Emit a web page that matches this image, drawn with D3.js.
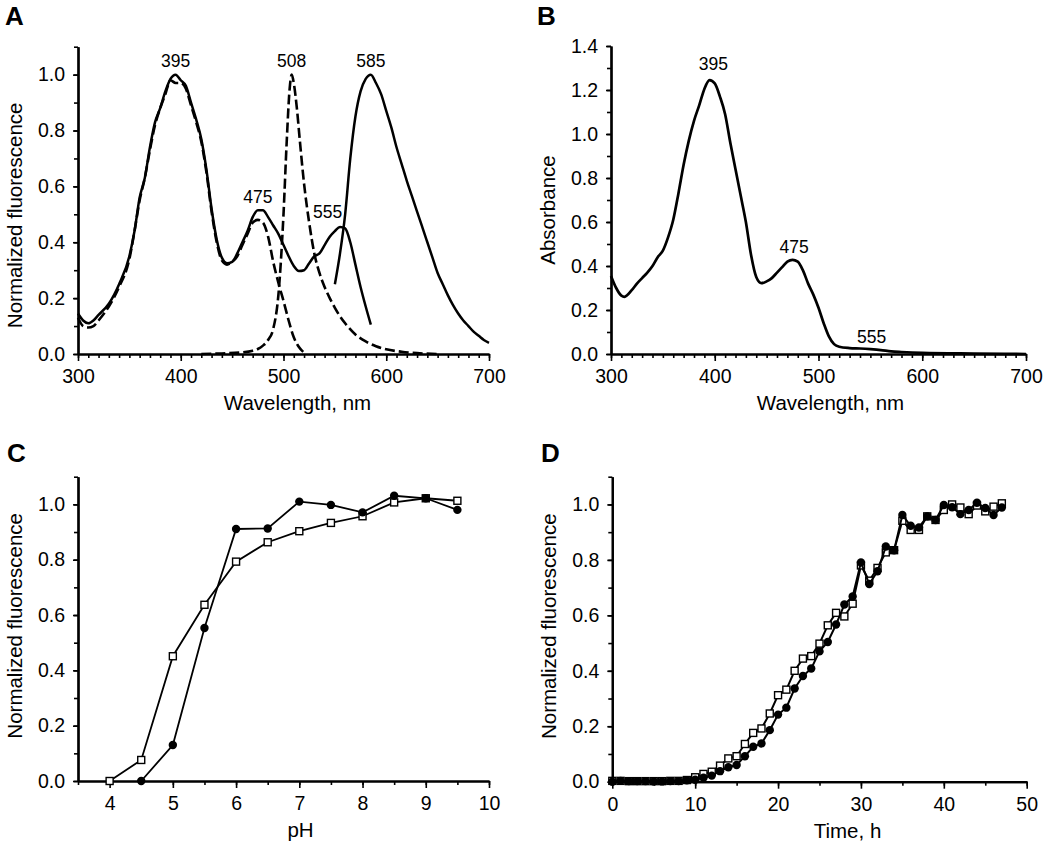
<!DOCTYPE html>
<html>
<head>
<meta charset="utf-8">
<script src="https://cdn.jsdelivr.net/npm/d3@7"></script>
<style>
  body { margin: 0; background: #fff; }
  svg { font-family: "Liberation Sans", Arial, sans-serif; }
</style>
</head>
<body>
<div id="chart"></div>
<script>
// Set the dimensions of the figure
const width = 1050, height = 854;

// ---------- data ----------
// Panel A: excitation (solid / dashed) and emission (dashed 508, solid 585)
const excSolid = [
  [300,0.145],[305,0.12],[310,0.11],[315,0.12],[320,0.14],[330,0.18],[340,0.25],[350,0.35],
  [355,0.44],[360,0.56],[365,0.63],[370,0.74],[375,0.83],[380,0.88],[385,0.94],[390,0.985],
  [395,1.0],[400,0.98],[405,0.96],[410,0.90],[415,0.84],[420,0.77],[425,0.66],[430,0.52],
  [435,0.41],[440,0.345],[445,0.325],[450,0.33],[455,0.36],[460,0.40],[465,0.44],[470,0.49],
  [475,0.515],[480,0.515],[485,0.49],[490,0.46],[495,0.43],[500,0.39],[505,0.35],[510,0.315],
  [515,0.297],[520,0.30],[525,0.325],[530,0.35],[535,0.36],[540,0.39],[545,0.42],[550,0.44],
  [555,0.455],[560,0.45],[565,0.40],[570,0.32],[575,0.24],[580,0.17],[585,0.105]
];
const excDashed = [
  [300,0.13],[305,0.10],[310,0.095],[315,0.10],[320,0.12],[330,0.17],[340,0.24],[350,0.34],
  [355,0.44],[360,0.55],[365,0.63],[370,0.73],[375,0.82],[380,0.88],[385,0.93],[390,0.98],
  [395,0.97],[400,0.97],[405,0.95],[410,0.89],[415,0.83],[420,0.76],[425,0.65],[430,0.51],
  [435,0.40],[440,0.335],[445,0.32],[450,0.33],[455,0.35],[460,0.39],[465,0.43],[470,0.47],
  [475,0.48],[480,0.47],[485,0.42],[490,0.33],[495,0.255],[500,0.19],[505,0.12],[510,0.06],
  [515,0.025],[520,0.005]
];
const emDashed = [
  [420,0],[440,0.002],[460,0.006],[470,0.012],[475,0.018],[480,0.03],[485,0.05],[490,0.09],
  [495,0.21],[500,0.50],[503,0.75],[506,0.95],[508,1.0],[510,0.97],[513,0.88],[516,0.76],
  [520,0.61],[525,0.47],[530,0.36],[535,0.29],[540,0.24],[545,0.20],[550,0.165],[555,0.135],
  [560,0.11],[570,0.07],[580,0.045],[590,0.028],[600,0.017],[615,0.008],[630,0.003],[650,0]
];
const emSolid = [
  [550,0.25],[555,0.36],[560,0.50],[565,0.70],[570,0.85],[575,0.94],[580,0.985],[585,1.0],
  [590,0.97],[595,0.93],[600,0.87],[605,0.81],[610,0.74],[615,0.68],[620,0.62],[625,0.565],
  [630,0.51],[635,0.455],[640,0.40],[645,0.345],[650,0.29],[655,0.25],[660,0.21],[665,0.175],
  [670,0.145],[675,0.12],[680,0.10],[685,0.08],[690,0.065],[695,0.05],[700,0.04]
];
const peaksA = [
  { text: "395", x: 395, y: 1.029 }, { text: "508", x: 508, y: 1.029 },
  { text: "585", x: 585, y: 1.029 }, { text: "475", x: 475, y: 0.541 },
  { text: "555", x: 543, y: 0.487 }
];

// Panel B: absorbance
const absorbance = [
  [300,0.355],[305,0.30],[310,0.265],[313,0.26],[320,0.29],[325,0.32],[330,0.345],[335,0.37],
  [340,0.40],[345,0.44],[350,0.47],[355,0.53],[360,0.61],[365,0.73],[370,0.86],[375,0.97],
  [380,1.06],[385,1.13],[390,1.205],[395,1.245],[400,1.23],[405,1.17],[410,1.09],[415,0.96],
  [420,0.84],[425,0.72],[430,0.60],[435,0.45],[440,0.35],[445,0.322],[450,0.33],[455,0.345],
  [460,0.37],[465,0.395],[470,0.42],[475,0.428],[480,0.42],[485,0.38],[490,0.32],[495,0.27],
  [500,0.21],[505,0.14],[510,0.08],[515,0.045],[520,0.033],[530,0.027],[540,0.025],[550,0.022],
  [560,0.018],[570,0.012],[580,0.009],[600,0.005],[650,0.002],[700,0]
];
const peaksB = [
  { text: "395", x: 398.6, y: 1.29 }, { text: "475", x: 476.5, y: 0.458 },
  { text: "555", x: 551.3, y: 0.0485 }
];

// Panel C: pH dependence
const phCircles = [4.5, 5, 5.5, 6, 6.5, 7, 7.5, 8, 8.5, 9, 9.5];
const phCirclesVal = [0, 0.13, 0.553, 0.911, 0.913, 1.01, 0.998, 0.971, 1.031, 1.022, 0.98];
const phSquares = [4, 4.5, 5, 5.5, 6, 6.5, 7, 7.5, 8, 8.5, 9, 9.5];
const phSquaresVal = [0, 0.076, 0.451, 0.637, 0.793, 0.863, 0.903, 0.933, 0.957, 1.007, 1.022, 1.013];

// Panel D: maturation time course (hours 0..47)
const hours = d3.range(0, 48);
const timeCircles = [
  0, 0.003, 0.002, 0.002, 0.002, 0.001, 0.001, 0.002, 0.002, 0.005, 0.007,
  0.014, 0.022, 0.038, 0.052, 0.06, 0.092, 0.126, 0.138, 0.186, 0.242,
  0.267, 0.336, 0.381, 0.408, 0.47, 0.504, 0.567, 0.639, 0.668, 0.791,
  0.713, 0.759, 0.848, 0.835, 0.962, 0.923, 0.917, 0.957, 0.944, 0.998,
  0.99, 0.965, 0.98, 1.006, 0.987, 0.962, 0.989
];
const timeSquares = [
  0.003, 0.003, 0.002, 0.002, 0.002, 0.002, 0.002, 0.003, 0.003, 0.006, 0.016,
  0.028, 0.036, 0.058, 0.084, 0.092, 0.136, 0.176, 0.192, 0.246, 0.312,
  0.332, 0.40, 0.444, 0.453, 0.498, 0.564, 0.609, 0.596, 0.642, 0.78,
  0.725, 0.771, 0.827, 0.835, 0.941, 0.908, 0.908, 0.957, 0.944, 0.98,
  1.0, 0.989, 0.965, 0.996, 0.975, 0.992, 1.004
];

// ---------- drawing ----------
const svg = d3.select("#chart").append("svg")
    .attr("width", width)
    .attr("height", height);
svg.append("rect").attr("width", width).attr("height", height).attr("fill", "#fff");

const tickFont = 19.5, titleFont = 20.5, peakFont = 17.5;

function drawAxes(p) {
  const g = svg.append("g");
  const x = d3.scaleLinear().domain(p.xDomain).range([p.left, p.right]);
  const y = d3.scaleLinear().domain(p.yDomain).range([p.bottom, p.top]);

  // minor ticks first, then major ticks with labels
  g.append("g").attr("transform", `translate(0,${p.bottom})`)
    .call(d3.axisBottom(x).tickValues(p.xMinor).tickSize(4).tickFormat("").tickSizeOuter(0));
  g.append("g").attr("transform", `translate(0,${p.bottom})`)
    .call(d3.axisBottom(x).tickValues(p.xMajor).tickSize(7).tickPadding(8)
      .tickFormat(d3.format("d")).tickSizeOuter(0));
  g.append("g").attr("transform", `translate(${p.left},0)`)
    .call(d3.axisLeft(y).tickValues(p.yMinor).tickSize(4).tickFormat("").tickSizeOuter(0));
  g.append("g").attr("transform", `translate(${p.left},0)`)
    .call(d3.axisLeft(y).tickValues(p.yMajor).tickSize(5).tickPadding(p.yPad)
      .tickFormat(d3.format(".1f")).tickSizeOuter(0));

  g.selectAll(".domain").attr("stroke", "#000").attr("stroke-width", 2.2);
  g.selectAll(".tick line").attr("stroke", "#000").attr("stroke-width", 1.6);
  g.selectAll(".tick text").attr("fill", "#000")
    .style("font-size", tickFont + "px")
    .style("font-family", '"Liberation Sans", Arial, sans-serif');

  // axis titles
  svg.append("text")
    .attr("x", (p.left + p.right) / 2 + (p.xTitleShift || 0))
    .attr("y", p.bottom + 56)
    .attr("text-anchor", "middle")
    .style("font-size", titleFont + "px")
    .text(p.xTitle);
  svg.append("text")
    .attr("transform", `translate(${p.left - 56},${(p.top + p.bottom) / 2 + (p.yTitleShift || 0)}) rotate(-90)`)
    .attr("text-anchor", "middle")
    .style("font-size", titleFont + "px")
    .text(p.yTitle);

  // panel letter
  svg.append("text")
    .attr("x", p.letterX).attr("y", p.letterY)
    .style("font-size", "26px").style("font-weight", "bold")
    .text(p.letter);

  return { x, y };
}

function drawCurve(sc, data, dashed, width) {
  const line = d3.line()
      .x(d => sc.x(d[0]))
      .y(d => sc.y(d[1]))
      .curve(d3.curveMonotoneX);
  svg.append("path")
    .datum(data)
    .attr("d", line)
    .attr("fill", "none")
    .attr("stroke", "#000")
    .attr("stroke-width", width)
    .attr("stroke-linejoin", "round")
    .attr("stroke-dasharray", dashed ? "10,4" : null);
}

function drawLabels(sc, labels) {
  svg.selectAll(null).data(labels).enter().append("text")
    .attr("x", d => sc.x(d.x))
    .attr("y", d => sc.y(d.y))
    .attr("text-anchor", "middle")
    .style("font-size", peakFont + "px")
    .text(d => d.text);
}

function drawSeries(sc, xs, ys, kind, lw) {
  const pts = xs.map((v, i) => [v, ys[i]]);
  svg.append("path")
    .datum(pts)
    .attr("d", d3.line().x(d => sc.x(d[0])).y(d => sc.y(d[1])))
    .attr("fill", "none")
    .attr("stroke", "#000")
    .attr("stroke-width", lw);
  if (kind === "circle") {
    svg.selectAll(null).data(pts).enter().append("circle")
      .attr("cx", d => sc.x(d[0]))
      .attr("cy", d => sc.y(d[1]))
      .attr("r", 4.2)
      .attr("fill", "#000");
  } else {
    const s = 7;
    svg.selectAll(null).data(pts).enter().append("rect")
      .attr("x", d => sc.x(d[0]) - s / 2)
      .attr("y", d => sc.y(d[1]) - s / 2)
      .attr("width", s).attr("height", s)
      .attr("fill", "#fff")
      .attr("stroke", "#000")
      .attr("stroke-width", 1.4);
  }
}

// Panel A
const sA = drawAxes({
  left: 78, right: 489, top: 46.7, bottom: 354,
  xDomain: [300, 700], yDomain: [0, 1.1],
  xMajor: d3.range(300, 701, 100), xMinor: d3.range(300, 701, 10),
  yMajor: d3.range(0, 1.01, 0.2), yMinor: d3.range(0, 1.11, 0.1),
  yPad: 8, xTitle: "Wavelength, nm", yTitle: "Normalized fluorescence",
  xTitleShift: 14, yTitleShift: 15,
  letter: "A", letterX: 5, letterY: 25
});
drawCurve(sA, excDashed, true, 2.6);
drawCurve(sA, excSolid, false, 2.5);
drawCurve(sA, emDashed, true, 2.6);
drawCurve(sA, emSolid, false, 2.5);
drawLabels(sA, peaksA);

// Panel B
const sB = drawAxes({
  left: 611, right: 1026, top: 46, bottom: 354,
  xDomain: [300, 700], yDomain: [0, 1.4],
  xMajor: d3.range(300, 701, 100), xMinor: d3.range(300, 701, 10),
  yMajor: d3.range(0, 1.41, 0.2), yMinor: d3.range(0, 1.41, 0.1),
  yPad: 8, xTitle: "Wavelength, nm", yTitle: "Absorbance",
  xTitleShift: 12, yTitleShift: 10,
  letter: "B", letterX: 537, letterY: 25
});
drawCurve(sB, absorbance, false, 2.7);
drawLabels(sB, peaksB);

// Panel C
const sC = drawAxes({
  left: 78, right: 489, top: 476.7, bottom: 781,
  xDomain: [3.5, 10], yDomain: [0, 1.1],
  xMajor: d3.range(4, 10.01, 1), xMinor: d3.range(3.5, 10.01, 0.5),
  yMajor: d3.range(0, 1.01, 0.2), yMinor: d3.range(0, 1.11, 0.1),
  yPad: 8, xTitle: "pH", yTitle: "Normalized fluorescence",
  xTitleShift: 17, yTitleShift: -3,
  letter: "C", letterX: 7, letterY: 462
});
drawSeries(sC, phSquares, phSquaresVal, "square", 1.8);
drawSeries(sC, phCircles, phCirclesVal, "circle", 1.8);

// Panel D
const sD = drawAxes({
  left: 612.3, right: 1026.7, top: 476.7, bottom: 781.7,
  xDomain: [0, 50], yDomain: [0, 1.1],
  xMajor: d3.range(0, 51, 10), xMinor: d3.range(0, 51, 5),
  yMajor: d3.range(0, 1.01, 0.2), yMinor: d3.range(0, 1.11, 0.1),
  yPad: 8, xTitle: "Time, h", yTitle: "Normalized fluorescence",
  xTitleShift: 28, yTitleShift: -3,
  letter: "D", letterX: 541, letterY: 462
});
drawSeries(sD, hours, timeSquares, "square", 2);
drawSeries(sD, hours, timeCircles, "circle", 2);
</script>
</body>
</html>
